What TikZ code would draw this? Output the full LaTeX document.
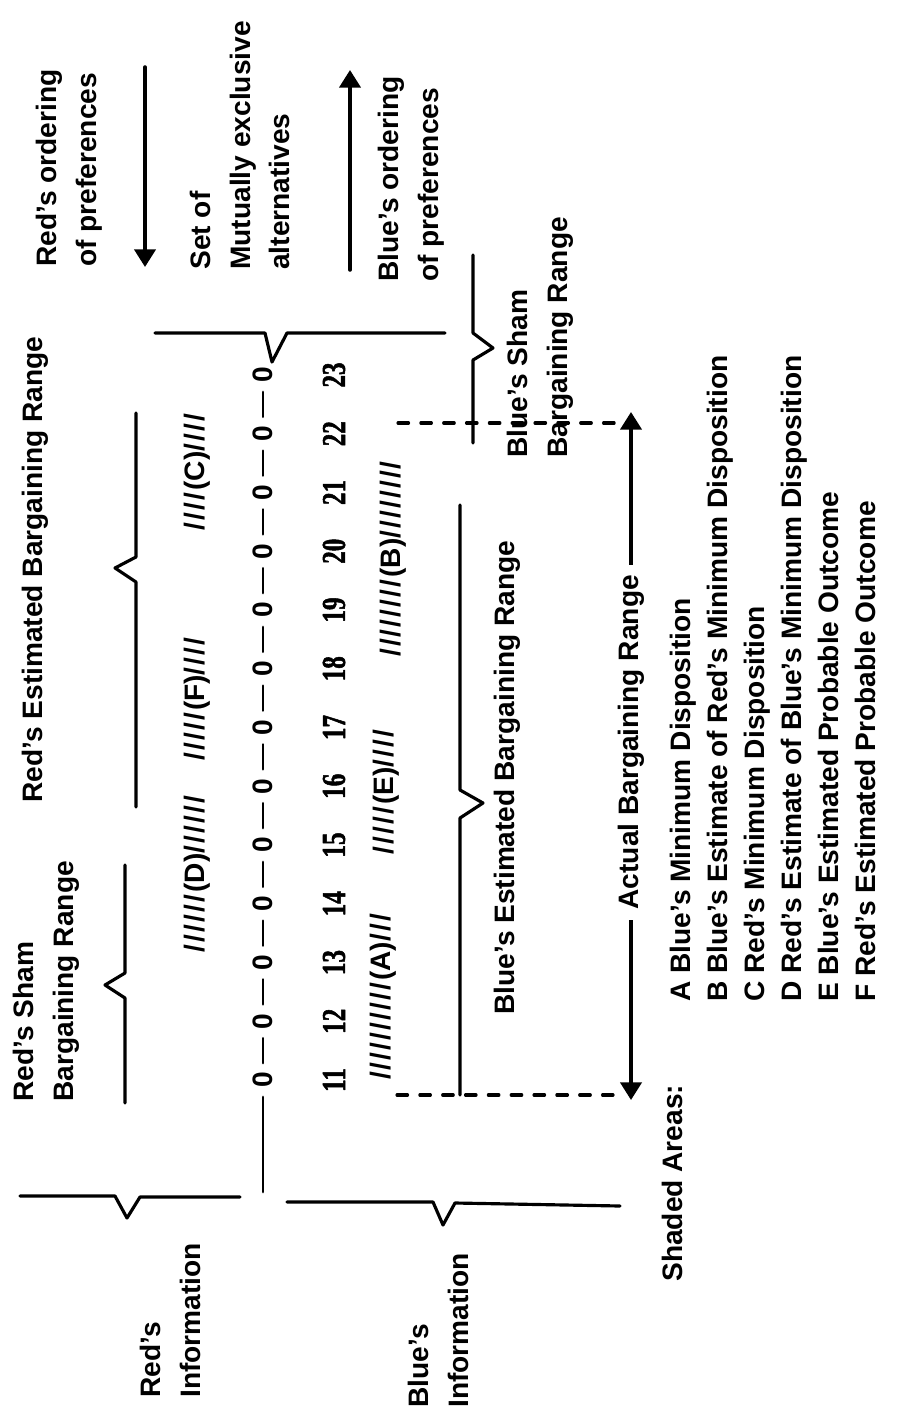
\documentclass[tikz,border=0pt]{standalone}
\usepackage{fontspec}
\setmainfont{Liberation Sans}
\newfontfamily\numfont{Liberation Serif Bold}[FakeStretch=0.75, FakeBold=1.5]
\usetikzlibrary{arrows.meta}
\newcommand\hatch[1]{\foreach \k in {1,...,#1}{/\kern1.2pt}}
\tikzset{
  lbl/.style={rotate=90, anchor=north west, align=left, inner sep=0pt,
    font=\fontsize{16pt}{22.5pt}\selectfont\bfseries},
  midlbl/.style={rotate=90, font=\fontsize{16pt}{19pt}\selectfont\bfseries},
  stripe/.style={rotate=90, inner sep=0pt, font=\fontsize{16pt}{19pt}\selectfont\bfseries},
  num/.style={rotate=90, inner sep=1pt, font=\fontsize{19pt}{21pt}\selectfont\numfont},
  altnode/.style={rotate=90, inner sep=2pt, font=\fontsize{16pt}{19pt}\selectfont\bfseries},
  brace/.style={line width=1.8pt},
  guide/.style={line width=1.8pt, dash pattern=on 6pt off 7pt},
  pref/.style={->, line width=2pt},
}
\begin{document}
\begin{tikzpicture}[x=0.02cm, y=-0.02cm, line join=round, line cap=round,
    >={Triangle[width=12pt,length=10pt]}]
  \useasboundingbox (0,0) rectangle (908,1416);
  \path
  (145,67) coordinate (rtop)
  (145,267) coordinate (rbot)
  (350,270) coordinate (bbot)
  (350,70) coordinate (btop)
  (631,1100) coordinate (actbot)
  (631,412) coordinate (acttop)
  (398,423) coordinate (dtopl)
  (626,423) coordinate (dtopr)
  (397,1095) coordinate (dbotl)
  (613,1095) coordinate (dbotr)
  (263,1192) coordinate (zstart)
  ;
  % headings
  \node[lbl] (redord) at (36,267) {Red's ordering\\of preferences};
  \node[lbl] (setalt) at (190,270) {Set of\\Mutually exclusive\\alternatives};
  \node[lbl] (blueord) at (378,282) {Blue's ordering\\of preferences};
  \node[lbl] (redsham) at (13,1102) {Red's Sham\\Bargaining Range};
  \node[lbl] (redest) at (22,803) {Red's Estimated Bargaining Range};
  \node[lbl] (redinfo) at (140,1398) {Red's\\Information};
  \node[lbl] (blueinfo) at (408,1408) {Blue's\\Information};
  \node[lbl] (bluest) at (494,1015) {Blue's Estimated Bargaining Range};
  \node[lbl] (bluesham) at (507,458) {Blue's Sham\\Bargaining Range};
  \node[lbl] (shaded) at (662,1282) {Shaded Areas:};
  \node[lbl, font=\fontsize{16pt}{21pt}\selectfont\bfseries] (legend) at (670,1002)
    {A Blue's Minimum Disposition\\
     B Blue's Estimate of Red's Minimum Disposition\\
     C Red's Minimum Disposition\\
     D Red's Estimate of Blue's Minimum Disposition\\
     E Blue's Estimated Probable Outcome\\
     F Red's Estimated Probable Outcome};
  % ordering arrows
  \draw[pref] (rtop) -- (rbot);
  \draw[pref] (bbot) -- (btop);
  % alternatives
  \foreach \n in {11,...,23}{
    \node[altnode] (z\n) at (263,{1080-(\n-11)*58.75}) {0};
    \node[num] (n\n) at (334,{1080-(\n-11)*58.75}) {\n};
  }
  \foreach \n [count=\i from 12] in {11,...,22}
    \draw[line width=1.6pt, shorten <=3pt, shorten >=3pt] (z\n) -- (z\i);
  \draw[line width=1.6pt, shorten <=3pt] (z11) -- (zstart);
  % shaded areas
  \node[stripe] (shD) at (197,873) {\hatch{6}(D)\hatch{6}};
  \node[stripe] (shF) at (197,698) {\hatch{5}(F)\hatch{4}};
  \node[stripe] (shC) at (197,471) {\hatch{4}(C)\hatch{4}};
  \node[stripe] (shA) at (383,996) {\hatch{10}(A)\hatch{3}};
  \node[stripe] (shE) at (386,791) {\hatch{5}(E)\hatch{4}};
  \node[stripe] (shB) at (393,558) {\hatch{8}(B)\hatch{8}};
  % braces
  \draw[brace] (155,333) -- (265,333) -- (272,362) -- (287,333) -- (445,333);
  \draw[brace] (20,1196) -- (115,1196) -- (127,1218) -- (140,1197) -- (240,1197);
  \draw[brace] (287,1202) -- (433,1202) -- (443,1225) -- (455,1203) -- (620,1206);
  \draw[brace] (125,865) -- (125,973) -- (105,985) -- (125,998) -- (125,1103);
  \draw[brace] (136,413) -- (136,557) -- (115,568) -- (136,582) -- (136,807);
  \draw[brace] (460,505) -- (460,790) -- (483,803) -- (460,818) -- (460,1095);
  \draw[brace] (473,255) -- (473,333) -- (493,348) -- (473,360) -- (473,443);
  % actual range
  \draw[guide] (dtopl) -- (dtopr);
  \draw[guide] (dbotl) -- (dbotr);
  \draw[<->, line width=2pt] (actbot) -- node[pos=0.52, midlbl, fill=white, inner sep=6pt] (actual) {Actual Bargaining Range} (acttop);
\end{tikzpicture}
\end{document}
